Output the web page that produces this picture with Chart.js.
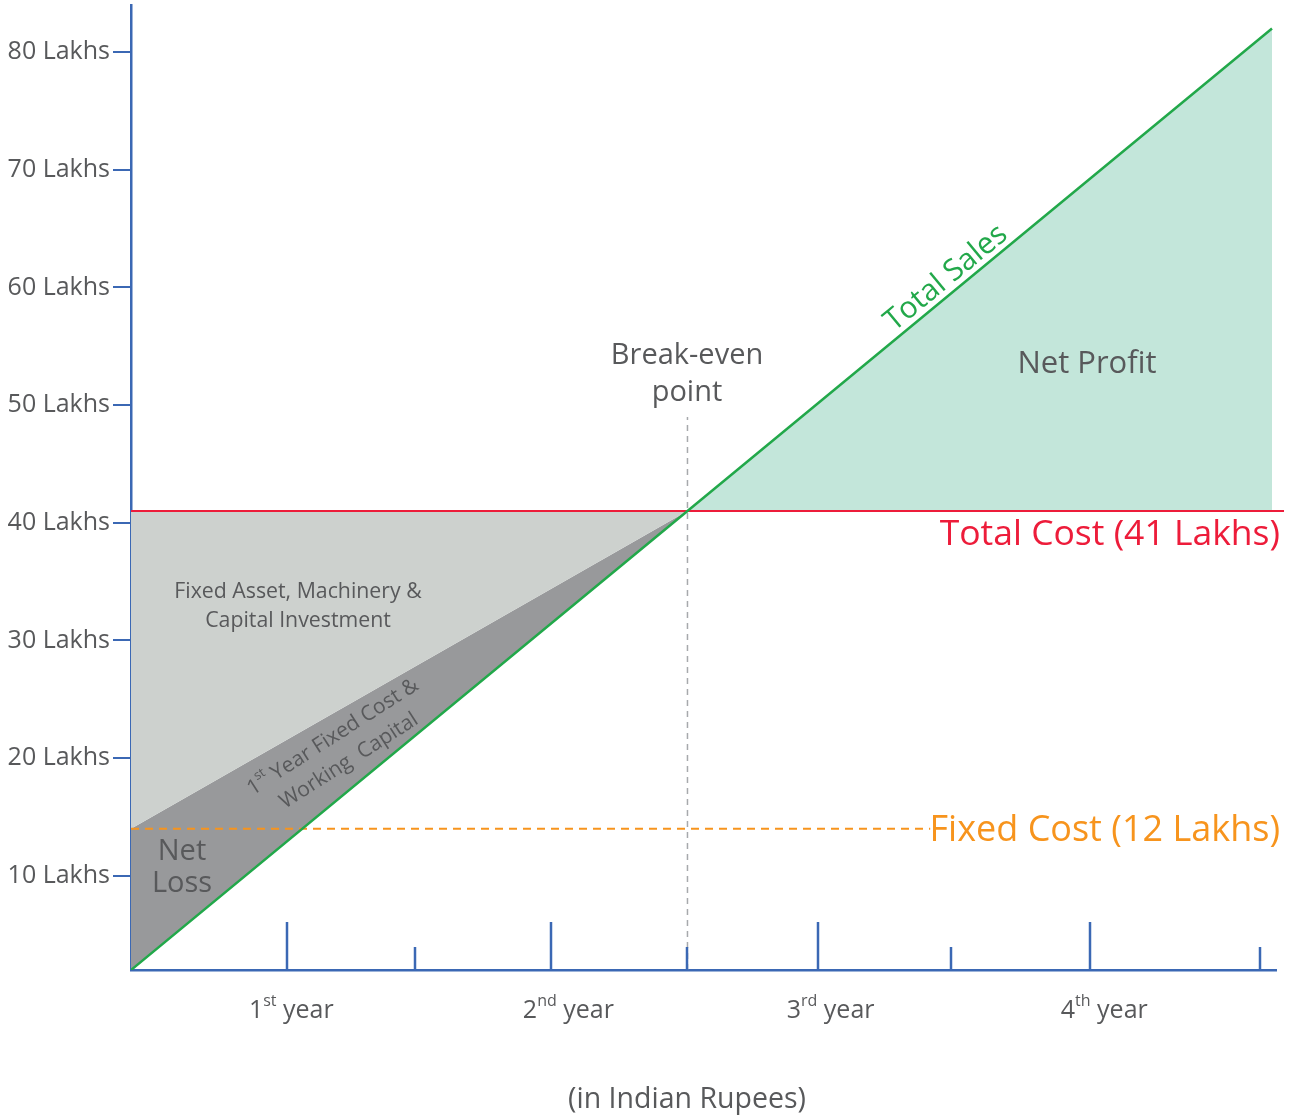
<!DOCTYPE html>
<html>
<head>
<meta charset="utf-8">
<script src="https://cdn.jsdelivr.net/npm/chart.js@4"></script>
<style>
  body { margin: 0; background: #fff; }
  #wrap { width: 1293px; height: 1118px; }
</style>
</head>
<body>
<div id="wrap"><canvas id="breakeven-chart" width="1293" height="1118"></canvas></div>
<script>
// Data (x in % of the time axis, y in Lakhs)
const yTicks = [10, 20, 30, 40, 50, 60, 70, 80];
const majorTicksX = [13.64, 36.71, 59.97, 83.74];
const minorTicksX = [24.83, 48.6, 71.59, 98.6];
const yearNums = ['1', '2', '3', '4'];
const yearSuffix = ['st', 'nd', 'rd', 'th'];
const yearLabelX = [14.0, 38.2, 61.1, 85.0];

const salesX = [0, 48.6, 99.65];
const salesY = [2, 41, 82];
const totalCost = 41;
const fixedCost = 14;
const breakEvenX = 48.6;
const breakEvenTop = 49;
const costLineEnd = 100.7;
const fixedLineEnd = 69.8;

const FONT = "'Open Sans', sans-serif";
const axisBlue = '#3b68b4';
const textGray = '#58595b';

const pts = (xs, ys) => xs.map((x, i) => ({ x: x, y: ys[i] }));

function drawText(ctx, text, x, y, size, color, align, angle) {
    ctx.save();
    ctx.translate(x, y);
    ctx.rotate(angle || 0);
    ctx.font = size + 'px ' + FONT;
    ctx.fillStyle = color;
    ctx.textAlign = align || 'center';
    ctx.textBaseline = 'middle';
    ctx.fillText(text, 0, 0);
    ctx.restore();
}

// text with superscript pieces, centred on x,y
function drawSupText(ctx, parts, x, y, size, color, angle) {
    ctx.save();
    ctx.translate(x, y);
    ctx.rotate(angle || 0);
    ctx.fillStyle = color;
    ctx.textBaseline = 'middle';
    ctx.textAlign = 'left';
    const supSize = Math.round(size * 0.62);
    let total = 0;
    parts.forEach(p => {
        ctx.font = (p[1] ? supSize : size) + 'px ' + FONT;
        total += ctx.measureText(p[0]).width;
    });
    let cx = -total / 2;
    parts.forEach(p => {
        ctx.font = (p[1] ? supSize : size) + 'px ' + FONT;
        ctx.fillText(p[0], cx, p[1] ? -size * 0.38 : 0);
        cx += ctx.measureText(p[0]).width;
    });
    ctx.restore();
}

const annotations = {
    id: 'annotations',
    afterDraw(chart) {
        const ctx = chart.ctx;
        const xs = chart.scales.x;
        const bottom = chart.chartArea.bottom;

        // ticks on the time axis point upwards
        ctx.save();
        ctx.strokeStyle = axisBlue;
        ctx.lineWidth = 2.5;
        majorTicksX.forEach(v => {
            const px = Math.round(xs.getPixelForValue(v));
            ctx.beginPath(); ctx.moveTo(px, bottom); ctx.lineTo(px, bottom - 48); ctx.stroke();
        });
        minorTicksX.forEach(v => {
            const px = Math.round(xs.getPixelForValue(v));
            ctx.beginPath(); ctx.moveTo(px, bottom); ctx.lineTo(px, bottom - 23); ctx.stroke();
        });
        ctx.restore();

        yearNums.forEach((n, i) => {
            drawSupText(ctx, [[n, false], [yearSuffix[i], true], [' year', false]],
                xs.getPixelForValue(yearLabelX[i]), 1011, 25, textGray, 0);
        });
        drawText(ctx, '(in Indian Rupees)', 687, 1100, 28.5, textGray);

        drawText(ctx, 'Break-even', 687, 356, 29, textGray);
        drawText(ctx, 'point', 687, 393, 29, textGray);
        drawText(ctx, 'Net Profit', 1087, 364, 31, textGray);
        drawText(ctx, 'Total Sales', 946, 278, 30, '#22a84a', 'center', -0.69);
        drawText(ctx, 'Total Cost (41 Lakhs)', 1280, 535, 35.5, '#ed1c3a', 'right');
        drawText(ctx, 'Fixed Cost (12 Lakhs)', 1280, 831, 36, '#f7941d', 'right');
        drawText(ctx, 'Fixed Asset, Machinery &', 298, 592, 21.3, textGray);
        drawText(ctx, 'Capital Investment', 298, 621, 21.3, textGray);
        drawText(ctx, 'Net', 182, 852, 29, textGray);
        drawText(ctx, 'Loss', 182, 884, 29, textGray);
        drawSupText(ctx, [['1', false], ['st', true], [' Year Fixed Cost &', false]],
            333, 737, 21, textGray, -0.57);
        drawText(ctx, 'Working  Capital', 349, 761, 21, textGray, 'center', -0.57);
    }
};

const noLine = { borderColor: 'rgba(0,0,0,0)', borderWidth: 0 };

new Chart(document.getElementById('breakeven-chart'), {
    type: 'scatter',
    data: {
        datasets: [
            { data: pts(salesX, salesY), showLine: true, borderColor: '#22a84a', borderWidth: 2.5, fill: false },
            { data: pts([0, costLineEnd], [totalCost, totalCost]), showLine: true, borderColor: '#ed1c3a', borderWidth: 2, fill: false, clip: false },
            { data: pts([0, fixedLineEnd], [fixedCost, fixedCost]), showLine: true, borderColor: '#f7941d', borderWidth: 2, borderDash: [8, 6], fill: false },
            { data: pts([breakEvenX, breakEvenX], [2, breakEvenTop]), showLine: true, borderColor: '#a7a9ac', borderWidth: 1.5, borderDash: [6, 5], fill: false },
            // filled areas
            Object.assign({ data: pts([0, breakEvenX], [totalCost, totalCost]), showLine: true, backgroundColor: '#cdd1ce', fill: '+1' }, noLine),
            Object.assign({ data: pts([0, breakEvenX], [fixedCost, totalCost]), showLine: true, backgroundColor: '#98999b', fill: '+1' }, noLine),
            Object.assign({ data: pts([0, breakEvenX], [2, totalCost]), showLine: true, fill: false }, noLine),
            Object.assign({ data: pts(salesX.slice(1), salesY.slice(1)), showLine: true, backgroundColor: '#c3e6da', fill: { value: totalCost } }, noLine)
        ]
    },
    options: {
        responsive: false,
        animation: false,
        events: [],
        layout: { padding: { top: 5, right: 17, left: 0, bottom: 0 } },
        elements: { point: { radius: 0 }, line: { tension: 0 } },
        plugins: {
            legend: { display: false },
            tooltip: { enabled: false },
            filler: { drawTime: 'beforeDatasetsDraw' }
        },
        scales: {
            x: {
                type: 'linear',
                min: 0,
                max: 100,
                z: 1,
                grid: { display: false },
                border: { display: true, color: axisBlue, width: 2.5 },
                ticks: { display: false },
                afterFit: s => { s.height = 148; s.paddingLeft = 0; s.paddingRight = 0; }
            },
            y: {
                type: 'linear',
                min: 2,
                max: 84,
                z: 1,
                afterBuildTicks: s => { s.ticks = yTicks.map(v => ({ value: v })); },
                grid: { drawOnChartArea: false, drawTicks: true, tickLength: 18, color: axisBlue, lineWidth: 2 },
                border: { display: true, color: axisBlue, width: 2.5 },
                ticks: {
                    callback: v => v + ' Lakhs',
                    color: textGray,
                    font: { family: FONT, size: 25 },
                    padding: 3
                },
                afterFit: s => { s.width = 131; s.paddingTop = 0; s.paddingBottom = 0; }
            }
        }
    },
    plugins: [annotations]
});
</script>
</body>
</html>
